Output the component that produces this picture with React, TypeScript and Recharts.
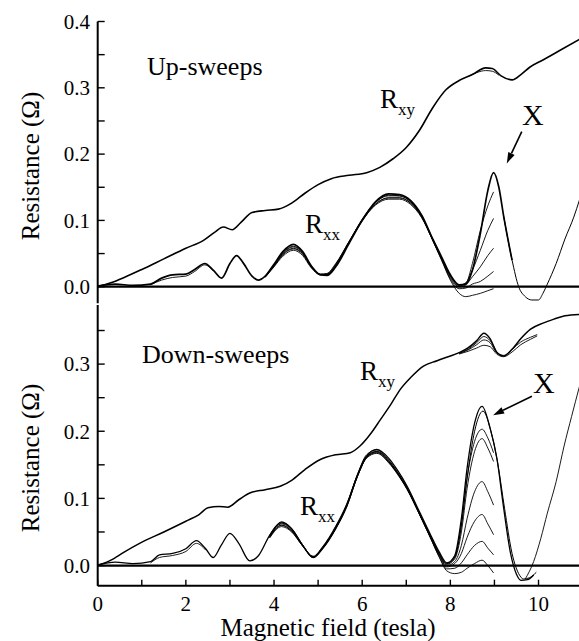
import React from 'react';
import { LineChart, Line, XAxis, YAxis, ReferenceLine } from 'recharts';

const SERIF = '"Liberation Serif", "Times New Roman", serif';

type Pt = { b: number; r: number };
const pts = (rows: number[][]): Pt[] => rows.map(([b, r]) => ({ b, r }));
const zip = (grid: number[], vals: number[]): Pt[] => grid.map((b, i) => ({ b, r: vals[i] }));

// ---- Up-sweeps (top panel) ----
const upRxy = pts([
  [0, 0], [0.3, 0.006], [0.6, 0.014], [1.0, 0.026], [1.5, 0.042], [2.0, 0.058], [2.4, 0.07],
  [2.65, 0.082], [2.85, 0.09], [3.05, 0.086], [3.25, 0.097], [3.5, 0.112], [3.8, 0.115],
  [4.1, 0.117], [4.4, 0.126], [4.7, 0.141], [5.0, 0.154], [5.3, 0.163], [5.7, 0.168],
  [6.1, 0.172], [6.4, 0.18], [6.7, 0.193], [7.0, 0.21], [7.3, 0.236], [7.6, 0.27],
  [7.9, 0.297], [8.2, 0.311], [8.5, 0.32], [8.8, 0.33], [8.95, 0.329], [9.15, 0.318],
  [9.4, 0.312], [9.6, 0.32], [9.8, 0.331], [10.1, 0.342], [10.5, 0.357], [10.93, 0.373],
]);
const upRxyLoop = pts([[8.4, 0.317], [8.6, 0.323], [8.8, 0.326], [8.95, 0.325], [9.1, 0.319]]);

const upRxx = pts([
  [0, 0.001], [0.4, 0.004], [0.8, 0.002], [1.2, 0.004], [1.45, 0.013], [1.7, 0.018],
  [2.0, 0.019], [2.2, 0.026], [2.43, 0.035], [2.62, 0.025], [2.81, 0.013], [3.0, 0.035],
  [3.15, 0.047], [3.3, 0.036], [3.5, 0.016], [3.64, 0.01], [3.8, 0.016], [4.0, 0.034],
  [4.2, 0.053], [4.44, 0.064], [4.65, 0.053], [4.85, 0.031], [5.05, 0.018], [5.2, 0.017],
  [5.4, 0.03], [5.7, 0.065], [6.0, 0.1], [6.3, 0.128], [6.6, 0.14], [6.85, 0.139],
  [7.1, 0.13], [7.35, 0.108], [7.6, 0.072], [7.8, 0.045], [8.0, 0.018], [8.2, 0.003],
  [8.35, 0.004], [8.5, 0.025], [8.68, 0.08], [8.85, 0.145], [8.98, 0.172], [9.1, 0.15],
  [9.21, 0.106], [9.4, 0.04],
]);
const upRxxTail = pts([
  [9.21, 0.106], [9.4, 0.04], [9.55, 0.0], [9.7, -0.015], [9.85, -0.02], [10.0, -0.02],
  [10.1, -0.01], [10.2, 0.004], [10.4, 0.035], [10.6, 0.072], [10.8, 0.105], [10.93, 0.131],
]);
const upLow = pts([[1.2, 0.003], [1.45, 0.01], [1.7, 0.014], [2.0, 0.016], [2.2, 0.023], [2.43, 0.033], [2.62, 0.024]]);

const upGrid = [3.8, 4.0, 4.2, 4.44, 4.65, 4.85, 5.05, 5.2, 5.4, 5.7, 6.0, 6.3, 6.6, 6.85, 7.1, 7.35, 7.6, 7.8, 8.0, 8.2, 8.35, 8.5, 8.68, 8.85, 8.98];
const upVarA = [0.015, 0.032, 0.05, 0.06, 0.051, 0.03, 0.018, 0.018, 0.032, 0.067, 0.102, 0.127, 0.137, 0.137, 0.128, 0.107, 0.072, 0.044, 0.017, 0.002, 0.005, 0.035, 0.085, 0.122, 0.143];
const upVarB = [0.015, 0.031, 0.048, 0.057, 0.049, 0.029, 0.018, 0.019, 0.034, 0.068, 0.101, 0.125, 0.134, 0.134, 0.126, 0.106, 0.071, 0.043, 0.016, 0.002, 0.006, 0.025, 0.055, 0.085, 0.103];
const upVarC = [0.014, 0.03, 0.046, 0.055, 0.047, 0.028, 0.019, 0.02, 0.035, 0.068, 0.1, 0.123, 0.132, 0.132, 0.124, 0.104, 0.07, 0.042, 0.014, 0.0, 0.003, 0.015, 0.03, 0.047, 0.058];
const upVarD = [0.015, 0.031, 0.049, 0.058, 0.05, 0.03, 0.019, 0.019, 0.033, 0.066, 0.099, 0.124, 0.134, 0.134, 0.126, 0.105, 0.07, 0.041, 0.012, -0.003, -0.002, 0.004, 0.008, 0.016, 0.023];
const upVarE = [0.016, 0.033, 0.051, 0.061, 0.052, 0.03, 0.018, 0.018, 0.031, 0.066, 0.101, 0.127, 0.138, 0.137, 0.128, 0.106, 0.07, 0.04, 0.01, -0.01, -0.015, -0.013, -0.01, -0.006, -0.003];

// ---- Down-sweeps (bottom panel) ----
const downRxy = pts([
  [0, 0], [0.3, 0.008], [0.6, 0.02], [0.95, 0.033], [1.5, 0.05], [2.0, 0.066], [2.3, 0.076],
  [2.5, 0.086], [2.75, 0.088], [2.95, 0.087], [3.2, 0.098], [3.45, 0.108], [3.8, 0.113],
  [4.14, 0.118], [4.4, 0.127], [4.7, 0.143], [5.05, 0.158], [5.4, 0.165], [5.73, 0.168],
  [5.95, 0.178], [6.2, 0.197], [6.41, 0.217], [6.65, 0.24], [6.86, 0.262], [7.1, 0.28],
  [7.39, 0.297], [7.7, 0.305], [7.95, 0.311], [8.2, 0.317], [8.4, 0.324], [8.6, 0.335],
  [8.76, 0.346], [8.9, 0.338], [9.05, 0.318], [9.21, 0.312], [9.4, 0.322], [9.6, 0.338],
  [9.82, 0.352], [10.1, 0.361], [10.35, 0.367], [10.6, 0.372], [10.93, 0.374],
]);
const downRxyGrid = [8.2, 8.4, 8.6, 8.76, 8.9, 9.05, 9.21, 9.4, 9.6, 9.82, 9.97];
const downRxyVarA = [0.316, 0.321, 0.329, 0.336, 0.332, 0.317, 0.313, 0.322, 0.333, 0.34, 0.344];
const downRxyVarB = [0.315, 0.319, 0.324, 0.328, 0.326, 0.315, 0.311, 0.318, 0.329, 0.337, 0.342];
const downRxyVarC = [0.316, 0.322, 0.332, 0.341, 0.335, 0.318];

const downRxx = pts([
  [0, 0.001], [0.4, 0.005], [0.8, 0.003], [1.2, 0.006], [1.4, 0.016], [1.7, 0.018],
  [2.0, 0.025], [2.24, 0.037], [2.45, 0.025], [2.62, 0.012], [2.8, 0.03], [3.0, 0.048],
  [3.2, 0.033], [3.45, 0.007], [3.65, 0.015], [3.9, 0.045], [4.17, 0.065], [4.4, 0.055],
  [4.65, 0.03], [4.89, 0.012], [5.1, 0.025], [5.4, 0.055], [5.65, 0.088], [5.9, 0.135],
  [6.1, 0.163], [6.33, 0.173], [6.6, 0.16], [6.8, 0.142], [7.02, 0.118], [7.3, 0.08],
  [7.55, 0.046], [7.75, 0.02], [7.92, 0.004], [8.1, 0.015], [8.25, 0.07], [8.38, 0.145],
  [8.55, 0.212], [8.72, 0.237], [8.9, 0.205], [9.06, 0.158], [9.2, 0.09], [9.36, 0.02],
  [9.5, -0.013], [9.6, -0.022], [9.75, -0.021], [9.89, -0.014],
]);
const downRxxTwin = pts([
  [7.92, 0.003], [8.1, 0.012], [8.25, 0.06], [8.38, 0.13], [8.55, 0.2], [8.74, 0.23],
  [8.92, 0.2], [9.08, 0.15], [9.23, 0.085], [9.4, 0.018], [9.55, -0.012], [9.66, -0.02],
  [9.8, -0.018], [9.95, -0.01],
]);
const downTail = pts([
  [9.7, -0.02], [9.89, 0.006], [10.05, 0.04], [10.2, 0.078], [10.4, 0.125], [10.58, 0.178],
  [10.75, 0.222], [10.93, 0.267],
]);
const downLow = pts([[1.2, 0.004], [1.4, 0.012], [1.7, 0.015], [2.0, 0.021], [2.24, 0.033], [2.45, 0.023]]);

const downGrid = [3.9, 4.17, 4.4, 4.65, 4.89, 5.1, 5.4, 5.65, 5.9, 6.1, 6.33, 6.6, 6.8, 7.02, 7.3, 7.55, 7.75, 7.92, 8.1, 8.25, 8.38, 8.55, 8.72, 8.85, 8.98];
const downVarA = [0.043, 0.062, 0.053, 0.03, 0.013, 0.026, 0.056, 0.09, 0.137, 0.165, 0.172, 0.157, 0.139, 0.116, 0.078, 0.044, 0.018, 0.003, 0.013, 0.06, 0.13, 0.185, 0.203, 0.19, 0.168];
const downVarB = [0.042, 0.06, 0.051, 0.029, 0.013, 0.027, 0.058, 0.091, 0.137, 0.163, 0.17, 0.155, 0.137, 0.114, 0.077, 0.043, 0.017, 0.002, 0.01, 0.05, 0.115, 0.17, 0.189, 0.175, 0.155];
const downVarC = [0.041, 0.058, 0.05, 0.029, 0.014, 0.028, 0.059, 0.092, 0.136, 0.161, 0.168, 0.153, 0.136, 0.113, 0.076, 0.042, 0.016, 0.0, 0.006, 0.03, 0.07, 0.11, 0.125, 0.11, 0.09];
const downVarD = [0.042, 0.06, 0.052, 0.03, 0.013, 0.027, 0.057, 0.09, 0.135, 0.162, 0.169, 0.155, 0.138, 0.115, 0.077, 0.042, 0.015, -0.002, 0.003, 0.018, 0.042, 0.066, 0.076, 0.062, 0.046];
const downVarE = [0.044, 0.063, 0.054, 0.03, 0.012, 0.026, 0.056, 0.089, 0.134, 0.16, 0.167, 0.154, 0.137, 0.114, 0.076, 0.041, 0.013, -0.005, -0.004, 0.004, 0.016, 0.03, 0.036, 0.026, 0.016];
const downVarF = [0.045, 0.064, 0.055, 0.031, 0.012, 0.025, 0.055, 0.088, 0.134, 0.161, 0.17, 0.157, 0.139, 0.115, 0.077, 0.041, 0.012, -0.008, -0.012, -0.01, -0.004, 0.003, 0.008, 0.0, -0.011];

const xTicks = [0, 1, 2, 3, 4, 5, 6, 7, 8, 9, 10, 11];
const upYTicks = [0, 0.05, 0.1, 0.15, 0.2, 0.25, 0.3, 0.35, 0.4];
const downYTicks = [0, 0.05, 0.1, 0.15, 0.2, 0.25, 0.3, 0.35];

type Series = { data: Pt[]; w: number };

const CHART_W = 600;
const PLOT_LEFT = 97.7;
const PLOT_RIGHT = 582.6;
const X_MAX = 11;

const serifStyle = { fontFamily: SERIF };

const Arrow = (p: any) => {
  const { x1, y1, x2, y2 } = p;
  const a = Math.atan2(y2 - y1, x2 - x1);
  const L = 11, H = 3.5;
  const bx = x2 - L * Math.cos(a), by = y2 - L * Math.sin(a);
  const px = -Math.sin(a) * H, py = Math.cos(a) * H;
  return (
    <g>
      <line x1={x1} y1={y1} x2={bx} y2={by} stroke="#000" strokeWidth={1.6} />
      <polygon points={`${x2},${y2} ${bx + px},${by + py} ${bx - px},${by - py}`} fill="#000" />
    </g>
  );
};

function Panel(props: {
  top: number; height: number; marginTop: number; marginBottom: number; xHeight: number;
  yDomain: [number, number]; yTicks: number[]; labels: boolean; series: Series[];
  arrow: { x: number; y: number }[];
}) {
  const { top, height, marginTop, marginBottom, xHeight, yDomain, yTicks, labels, series, arrow } = props;
  const yTick = (tp: any) => {
    const v = tp.payload.value;
    if (Math.abs(v * 10 - Math.round(v * 10)) > 1e-6) return <g />;
    return (
      <text x={90} y={tp.y} dy="0.35em" textAnchor="end" fontSize={21} style={serifStyle} fill="#000">
        {v.toFixed(1)}
      </text>
    );
  };
  const xTick = (tp: any) => {
    const v = tp.payload.value;
    if (!labels || v % 2 !== 0 || v > 10) return <g />;
    return (
      <text x={tp.x} y={611} textAnchor="middle" fontSize={21} style={serifStyle} fill="#000">
        {v}
      </text>
    );
  };
  const axisLine = { stroke: '#000', strokeWidth: 2 };
  const tickLine = { stroke: '#000', strokeWidth: 1.4 };
  return (
    <div style={{ position: 'absolute', left: 0, top }}>
      <LineChart
        width={CHART_W}
        height={height}
        margin={{ top: marginTop, right: CHART_W - PLOT_RIGHT, bottom: marginBottom, left: 0 }}
      >
        <XAxis
          xAxisId={0}
          dataKey="b"
          type="number"
          domain={[0, X_MAX]}
          ticks={xTicks}
          interval={0}
          allowDataOverflow
          height={xHeight}
          tickSize={-6}
          tickMargin={10}
          axisLine={axisLine}
          tickLine={tickLine}
          tick={xTick}
        />
        <XAxis
          xAxisId="top"
          orientation="top"
          type="number"
          domain={[0, X_MAX]}
          height={0}
          axisLine={axisLine}
          tickLine={false}
          tick={() => <g />}
        />
        <YAxis
          type="number"
          domain={yDomain}
          ticks={yTicks}
          interval={0}
          allowDataOverflow
          width={PLOT_LEFT}
          tickSize={-7}
          tickMargin={14}
          axisLine={axisLine}
          tickLine={tickLine}
          tick={yTick}
        />
        <ReferenceLine y={0} stroke="#000" strokeWidth={2.2} ifOverflow="hidden" />
        {series.map((s, i) => (
          <Line
            key={i}
            data={s.data}
            dataKey="r"
            type="monotone"
            dot={false}
            activeDot={false}
            stroke="#000"
            strokeWidth={s.w}
            isAnimationActive={false}
          />
        ))}
        <ReferenceLine
          segment={[arrow[0], arrow[1]]}
          ifOverflow="visible"
          shape={Arrow}
        />
      </LineChart>
    </div>
  );
}

const upSeries: Series[] = [
  { data: upRxy, w: 1.6 },
  { data: upRxyLoop, w: 0.9 },
  { data: upLow, w: 0.9 },
  { data: zip(upGrid, upVarA), w: 0.9 },
  { data: zip(upGrid, upVarB), w: 0.9 },
  { data: zip(upGrid, upVarC), w: 0.9 },
  { data: zip(upGrid, upVarD), w: 0.9 },
  { data: zip(upGrid, upVarE), w: 0.9 },
  { data: upRxx, w: 1.7 },
  { data: upRxxTail, w: 1.0 },
];

const downSeries: Series[] = [
  { data: downRxy, w: 1.5 },
  { data: zip(downRxyGrid, downRxyVarA), w: 0.9 },
  { data: zip(downRxyGrid, downRxyVarB), w: 0.9 },
  { data: zip(downRxyGrid.slice(0, downRxyVarC.length), downRxyVarC), w: 0.9 },
  { data: downLow, w: 0.9 },
  { data: zip(downGrid, downVarA), w: 0.9 },
  { data: zip(downGrid, downVarB), w: 0.9 },
  { data: zip(downGrid, downVarC), w: 0.9 },
  { data: zip(downGrid, downVarD), w: 0.9 },
  { data: zip(downGrid, downVarE), w: 0.9 },
  { data: zip(downGrid, downVarF), w: 0.9 },
  { data: downRxx, w: 1.3 },
  { data: downRxxTwin, w: 1.0 },
  { data: downTail, w: 0.9 },
];

function R(props: { x: number; y: number; sub: string }) {
  return (
    <text x={props.x} y={props.y} fontSize={27} style={serifStyle} fill="#000">
      R<tspan fontSize={17} dy={7}>{props.sub}</tspan>
    </text>
  );
}

export default function App() {
  return (
    <div
      style={{
        position: 'fixed', left: 0, top: 0, width: 579, height: 641, overflow: 'hidden',
        background: '#fff', fontFamily: SERIF,
      }}
    >
      <Panel
        top={0}
        height={304}
        marginTop={21.5}
        marginBottom={0.7}
        xHeight={0}
        yDomain={[-0.025, 0.4]}
        yTicks={upYTicks}
        labels={false}
        series={upSeries}
        arrow={[{ x: 9.62, y: 0.234 }, { x: 9.28, y: 0.186 }]}
      />
      <Panel
        top={0}
        height={641}
        marginTop={305}
        marginBottom={0}
        xHeight={55.3}
        yDomain={[-0.03, 0.388]}
        yTicks={downYTicks}
        labels={true}
        series={downSeries}
        arrow={[{ x: 9.85, y: 0.252 }, { x: 8.97, y: 0.224 }]}
      />
      <svg width={579} height={641} style={{ position: 'absolute', left: 0, top: 0, pointerEvents: 'none' }}>
        <text x={147} y={75} fontSize={26} style={serifStyle} fill="#000">Up-sweeps</text>
        <text x={142} y={363.3} fontSize={26} style={serifStyle} fill="#000">Down-sweeps</text>
        <R x={380} y={108.3} sub="xy" />
        <R x={305} y={233.3} sub="xx" />
        <R x={360} y={380} sub="xy" />
        <R x={300} y={515} sub="xx" />
        <text x={522} y={125} fontSize={30} style={serifStyle} fill="#000">X</text>
        <text x={533} y={393} fontSize={30} style={serifStyle} fill="#000">X</text>
        <text transform="translate(30,166) rotate(-90)" textAnchor="middle" dy="0.35em" fontSize={25} style={serifStyle} fill="#000">
          Resistance (Ω)
        </text>
        <text transform="translate(30,458) rotate(-90)" textAnchor="middle" dy="0.35em" fontSize={25} style={serifStyle} fill="#000">
          Resistance (Ω)
        </text>
        <text x={328} y={636} textAnchor="middle" fontSize={25} style={serifStyle} fill="#000">Magnetic field (tesla)</text>
      </svg>
    </div>
  );
}
